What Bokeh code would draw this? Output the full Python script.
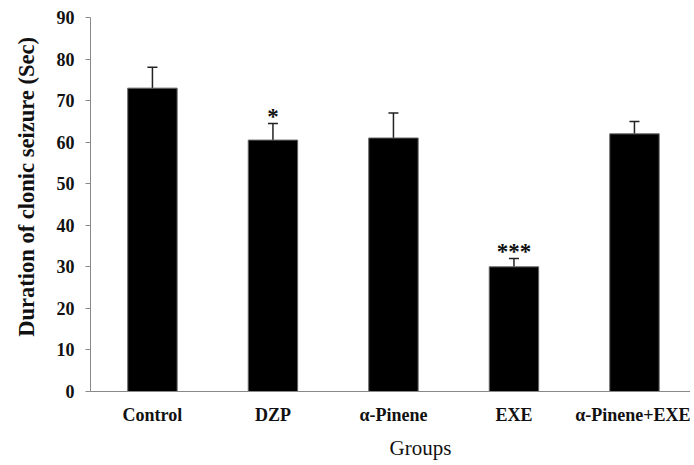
from bokeh.plotting import figure
from bokeh.models import ColumnDataSource, Range1d, Whisker, Title, FixedTicker
from bokeh.embed import file_html
from bokeh.resources import INLINE

groups = ["Control", "DZP", "α-Pinene", "EXE", "α-Pinene+EXE"]
means = [73, 60.5, 61, 30, 62]
errors = [5, 4, 6, 2, 3]
signif = ["", "*", "", "***", ""]
y_ticks = [0, 10, 20, 30, 40, 50, 60, 70, 80, 90]

pos = list(range(len(groups)))
upper = [m + e for m, e in zip(means, errors)]
src = ColumnDataSource(dict(x=pos, m=means, up=upper, sig=signif))

FONT = "Liberation Serif"

p = figure(x_range=Range1d(-0.514, 4.465), y_range=Range1d(0, 90),
           width=690, height=465, output_backend="svg", toolbar_location=None,
           min_border_left=86, min_border_right=0, min_border_top=17, min_border_bottom=73)
p.outline_line_color = None
p.grid.visible = False

p.vbar(x="x", top="m", width=0.41, source=src, fill_color="black", line_color="#666666", line_width=1)

w = Whisker(base="x", upper="up", lower="m", source=src, line_color="#222222", line_width=1.5)
w.upper_head.size = 10
w.upper_head.line_color = "#222222"
w.upper_head.line_width = 1.5
w.lower_head = None
p.add_layout(w)

p.text(x="x", y="up", text="sig", source=src, text_align="center", text_baseline="alphabetic",
       text_font=FONT, text_font_style="bold", text_font_size="23px", text_color="#111111",
       y_offset=-7)

# y axis
ya = p.yaxis[0]
ya.ticker = FixedTicker(ticks=y_ticks)
ya.axis_line_color = "#888888"
ya.major_tick_line_color = "#888888"
ya.minor_tick_line_color = None
ya.major_tick_out = 5
ya.major_tick_in = 0
ya.major_label_standoff = 11
ya.major_label_text_font = FONT
ya.major_label_text_font_style = "bold"
ya.major_label_text_font_size = "18px"
ya.major_label_text_color = "#111111"

# x axis
xa = p.xaxis[0]
xa.ticker = FixedTicker(ticks=pos)
xa.major_label_overrides = {i: g for i, g in zip(pos, groups)}
xa.axis_line_color = "#888888"
xa.major_tick_line_color = None
xa.minor_tick_line_color = None
xa.major_tick_out = 0
xa.major_tick_in = 0
xa.major_label_standoff = 13
xa.major_label_text_font = FONT
xa.major_label_text_font_style = "bold"
xa.major_label_text_font_size = "18px"
xa.major_label_text_color = "#111111"

p.add_layout(Title(text="Duration  of clonic seizure (Sec)", align="right", offset=14,
                   vertical_align="top", standoff=26,
                   text_font=FONT, text_font_style="bold", text_font_size="22.5px",
                   text_color="#111111"), "left")
p.add_layout(Title(text="Groups", align="left", offset=299, vertical_align="bottom", standoff=12,
                   text_font=FONT, text_font_style="normal", text_font_size="21px",
                   text_color="#111111"), "below")

open("out.html", "w").write(file_html(p, INLINE))
